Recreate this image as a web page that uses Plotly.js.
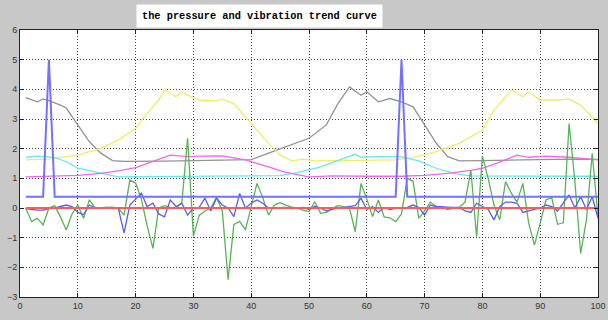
<!DOCTYPE html>
<html><head><meta charset="utf-8">
<script src="https://cdn.plot.ly/plotly-3.0.1.min.js"></script>
<style>html,body{margin:0;padding:0;background:#c8c8c8;}#chart{width:608px;height:320px;}</style>
</head><body><div id="chart"></div>
<script>
const titleText = "the pressure and vibration trend curve";

const grayX = [1,3,4,5,7,8,10,12,14,16,18,20,25,30,35,40,43,46,50,53,55,57,59,60,62,64,66,68,70,72,74,76,80,85,90,95,100];
const grayY = [3.72,3.58,3.68,3.62,3.47,3.37,2.8,2.23,1.85,1.6,1.57,1.57,1.58,1.6,1.62,1.63,1.85,2.06,2.35,2.8,3.52,4.08,3.8,3.92,3.58,3.69,3.58,3.41,2.8,2.19,1.73,1.59,1.6,1.62,1.63,1.65,1.64];

const yellowX = [1,5,10,14,17,20,22,24,25,27,28,29,31,34,35,37,40,43,45,47,49,51,55,60,65,68,72,76,80,82,85,87,88,90,93,95,97,100];
const yellowY = [1.62,1.65,1.78,2.01,2.29,2.68,3.19,3.64,4.0,3.75,3.92,3.8,3.64,3.61,3.67,3.52,2.85,2.18,1.78,1.59,1.65,1.59,1.6,1.6,1.62,1.7,1.9,2.18,2.63,3.3,3.97,3.75,3.92,3.64,3.64,3.67,3.47,2.85];

const cyanX = [1,3,6,8,10,14,17,20,25,30,35,40,45,48,52,56,58,59,62,66,69,72,75,78,85,90,95,100];
const cyanY = [1.71,1.75,1.71,1.56,1.34,1.17,1.05,1.06,1.07,1.08,1.08,1.08,1.09,1.19,1.39,1.67,1.81,1.71,1.73,1.72,1.59,1.34,1.17,1.08,1.07,1.07,1.07,1.07];

const magentaX = [1,5,10,14,17,20,23,26,29,31,35,39,43,46,50,54,60,66,70,74,78,80,83,86,88,91,95,100];
const magentaY = [1.05,1.07,1.1,1.17,1.25,1.36,1.56,1.78,1.73,1.75,1.76,1.62,1.39,1.2,1.05,1.08,1.07,1.07,1.1,1.17,1.27,1.34,1.55,1.78,1.71,1.75,1.71,1.62];

const pulseX = [1,4,5,6,65,66,67,100];
const pulseY = [0.38,0.38,5.0,0.38,0.38,5.0,0.38,0.38];

const refX = [1,100];
const refY = [0,0];

const greenY = [0,-0.46,-0.35,-0.57,0.0,0.08,-0.3,-0.74,-0.2,0.1,
  -0.35,0.27,0.0,-0.02,0.02,0.03,0.0,-0.24,0.94,0.84,
  0.3,-0.6,-1.36,0.0,0.08,0.02,0.0,0.17,2.35,-0.95,
  -0.25,-0.1,0.0,0.36,-0.1,-2.42,-0.55,-0.45,-0.74,0.1,
  0.83,0.35,-0.24,0.1,0.18,0.1,0.03,0.0,-0.08,-0.12,
  0.21,-0.18,-0.15,-0.02,0.08,0.05,0.0,-0.8,0.83,0.3,
  -0.29,0.27,-0.3,-0.33,-0.46,-0.2,1.0,0.9,-0.35,-0.1,
  0.2,0.05,0.02,-0.05,0.0,0.02,0.2,1.28,-0.97,1.75,
  1.0,0.1,-0.4,0.89,0.5,0.2,0.83,-0.5,-1.25,-0.5,
  0.27,0.35,-0.55,-0.5,2.85,0.9,-1.53,-0.4,1.84,-0.29];

const blueY = [-0.02,-0.05,-0.07,-0.07,-0.02,0.0,0.05,0.1,0.05,-0.15,
  -0.22,0.1,0.0,0.0,0.02,-0.02,0.0,-0.85,0.1,0.3,
  0.5,0.05,0.16,-0.2,-0.3,0.27,0.05,0.16,-0.24,0.0,
  0.02,0.33,-0.1,0.33,0.1,0.0,-0.29,0.49,0.0,0.16,
  0.27,0.16,0.0,0.0,0.0,0.02,-0.02,0.0,0.02,-0.05,
  0.06,0.0,-0.1,-0.05,0.0,0.02,0.05,0.08,0.33,-0.05,
  0.05,-0.15,0.02,-0.05,0.0,0.0,0.02,0.1,0.02,-0.24,
  0.1,0.05,0.03,0.03,0.02,0.02,-0.1,-0.15,0.16,0.05,
  -0.05,-0.4,0.05,0.2,0.2,0.16,-0.15,-0.1,-0.05,0.0,
  0.1,0.05,-0.1,0.16,0.44,0.0,0.38,-0.05,0.38,-0.35];

const noiseX = greenY.map((_, i) => i + 1);

function ln(x, y, color, width) {
  return {x: x, y: y, type: 'scatter', mode: 'lines', line: {color: color, width: width}, hoverinfo: 'skip', showlegend: false};
}

const traces = [
  ln(grayX, grayY, '#939393', 1.3),
  ln(yellowX, yellowY, '#eeee66', 1.3),
  ln(cyanX, cyanY, '#66e8ee', 1.3),
  ln(magentaX, magentaY, '#f266f2', 1.3),
  ln(noiseX, greenY, '#58b458', 1.3),
  ln(noiseX, blueY, '#5c5cf2', 1.3),
  ln(refX, refY, '#ff5a5a', 2),
  ln(pulseX, pulseY, '#7272ff', 2)
];

const axisCommon = {
  showline: true, linecolor: '#222', linewidth: 1, mirror: 'ticks',
  ticks: 'inside', ticklen: 4, tickcolor: '#222',
  showgrid: true, gridcolor: '#444', griddash: '1px,2px', gridwidth: 1,
  zeroline: false, tickfont: {family: 'Liberation Sans', size: 9, color: '#333'}
};

const layout = {
  width: 608, height: 320,
  margin: {l: 20, r: 10, t: 30, b: 23},
  paper_bgcolor: '#c8c8c8', plot_bgcolor: '#ffffff',
  xaxis: Object.assign({}, axisCommon, {range: [0, 100], dtick: 10, tick0: 0}),
  yaxis: Object.assign({}, axisCommon, {range: [-3, 6], dtick: 1, tick0: -3}),
  annotations: [{
    text: titleText, xref: 'paper', yref: 'paper', x: 0.415, y: 1, yshift: 14,
    xanchor: 'center', yanchor: 'middle', showarrow: false,
    bgcolor: '#ffffff', borderpad: 5,
    font: {family: 'Liberation Mono', size: 10.3, color: '#000', weight: 'bold'}
  }]
};

Plotly.newPlot('chart', traces, layout, {staticPlot: true, displayModeBar: false});
</script></body></html>
